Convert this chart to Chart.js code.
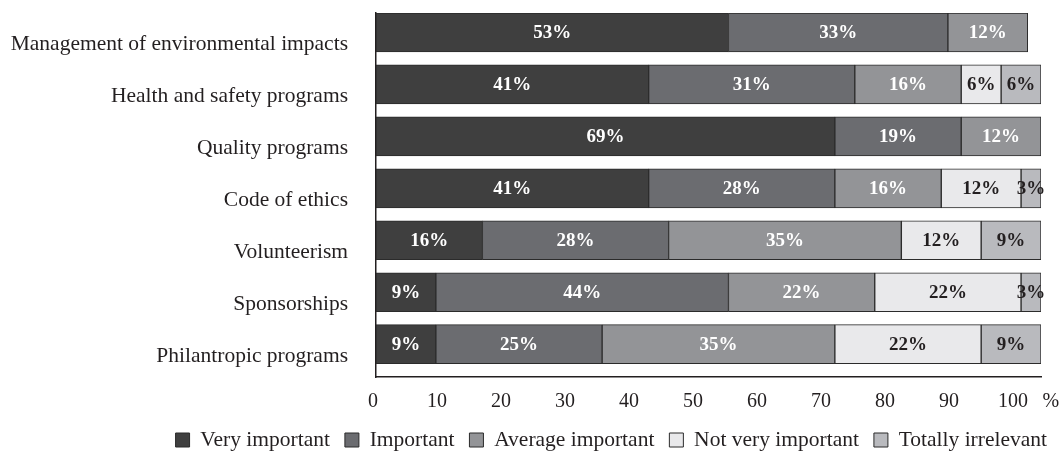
<!DOCTYPE html>
<html>
<head>
<meta charset="utf-8">
<script src="https://cdn.jsdelivr.net/npm/chart.js@4/dist/chart.umd.min.js"></script>
<style>
html, body { margin: 0; padding: 0; background: #fff; }
canvas { display: block; }
</style>
</head>
<body>
<canvas id="myChart" width="1062" height="456"></canvas>
<script>
// categories, top to bottom
var categories = [
    'Management of environmental impacts',
    'Health and safety programs',
    'Quality programs',
    'Code of ethics',
    'Volunteerism',
    'Sponsorships',
    'Philantropic programs'
];
var seriesNames = ['Very important', 'Important', 'Average important', 'Not very important', 'Totally irrelevant'];

// percentages as printed on the bars (null = no segment)
var veryImportant     = [53, 41, 69, 41, 16, 9, 9];
var important         = [33, 31, 19, 28, 28, 44, 25];
var averageImportant  = [12, 16, 12, 16, 35, 22, 35];
var notVeryImportant  = [null, 6, null, 12, 12, 22, 22];
var totallyIrrelevant = [null, 6, null, 3, 9, 3, 9];

var xTicks = [0, 10, 20, 30, 40, 50, 60, 70, 80, 90, 100];

var fills = ['#3f3f3f', '#6b6c70', '#939497', '#e9e9eb', '#b9babe'];
var labelColors = ['#ffffff', '#ffffff', '#ffffff', '#231f20', '#231f20'];
var textColor = '#231f20';
var serif = '"Liberation Serif", "Times New Roman", serif';

function toPoints(values){
    var pts = [];
    values.forEach(function(v, i){
        if (v !== null) pts.push({x: v, y: i});
    });
    return pts;
}

var allSeries = [veryImportant, important, averageImportant, notVeryImportant, totallyIrrelevant];
var datasets = allSeries.map(function(values, i){
    return {
        label: seriesNames[i],
        data: toPoints(values),
        backgroundColor: fills[i],
        borderColor: '#2b2b2b',
        borderWidth: 1,
        borderSkipped: false,
        xAxisID: 'x',
        yAxisID: 'yb',
        barThickness: 39
    };
});

// percent labels inside the segments + the "%" unit after the axis
var barLabels = {
    id: 'barLabels',
    afterDatasetsDraw: function(chart){
        var ctx = chart.ctx;
        ctx.save();
        ctx.font = 'bold 19px ' + serif;
        ctx.textAlign = 'center';
        ctx.textBaseline = 'middle';
        chart.data.datasets.forEach(function(ds, i){
            var meta = chart.getDatasetMeta(i);
            meta.data.forEach(function(bar, j){
                var p = bar.getCenterPoint();
                ctx.fillStyle = labelColors[i];
                ctx.fillText(ds.data[j].x + '%', p.x, p.y + 1);
            });
        });
        var sx = chart.scales.x2;
        ctx.font = '20px ' + serif;
        ctx.fillStyle = textColor;
        ctx.fillText('%', sx.getPixelForValue(105.9), sx.top + sx.options.ticks.padding + 12);
        ctx.restore();
    }
};

var ctx = document.getElementById('myChart').getContext('2d');
var myChart = new Chart(ctx, {
    type: 'bar',
    data: { datasets: datasets },
    options: {
        indexAxis: 'y',
        responsive: false,
        animation: false,
        devicePixelRatio: 1,
        layout: { padding: { top: 13, right: 0, left: 0, bottom: 0 } },
        scales: {
            x: { type: 'linear', display: false, min: 0, max: 100, stacked: true },
            yb: { type: 'linear', display: false, offset: false, reverse: true, min: -0.375, max: 6.632, stacked: true },
            // empty strip on the right so the legend can run further than the plot
            yr: {
                type: 'linear',
                position: 'right',
                min: 0,
                max: 1,
                grid: { display: false, drawTicks: false },
                border: { display: false },
                ticks: { display: false },
                afterFit: function(scale){ scale.width = 21; }
            },
            x2: {
                type: 'linear',
                position: 'bottom',
                min: 0.473,
                max: 104.37,
                grid: { display: false, drawTicks: false },
                border: { display: true, color: textColor, width: 1.5 },
                ticks: { padding: 13, color: textColor, font: { family: serif, size: 20 } },
                afterBuildTicks: function(scale){
                    scale.ticks = xTicks.map(function(v){ return {value: v}; });
                },
                afterFit: function(scale){ scale.height = 37.25; }
            },
            y: {
                type: 'category',
                position: 'left',
                labels: categories,
                offset: true,
                grid: { display: false, drawTicks: true, tickLength: 28 },
                border: { display: true, color: textColor, width: 1.5 },
                ticks: { padding: 0, labelOffset: 5, color: textColor, font: { family: serif, size: 21.5 } },
                afterFit: function(scale){ scale.width = 376; }
            }
        },
        plugins: {
            tooltip: { enabled: false },
            legend: {
                position: 'bottom',
                align: 'end',
                maxHeight: 41.75,
                labels: {
                    boxWidth: 14,
                    boxHeight: 14,
                    padding: 15,
                    color: textColor,
                    font: { family: serif, size: 21.5 }
                }
            }
        }
    },
    plugins: [barLabels]
});
</script>
</body>
</html>
